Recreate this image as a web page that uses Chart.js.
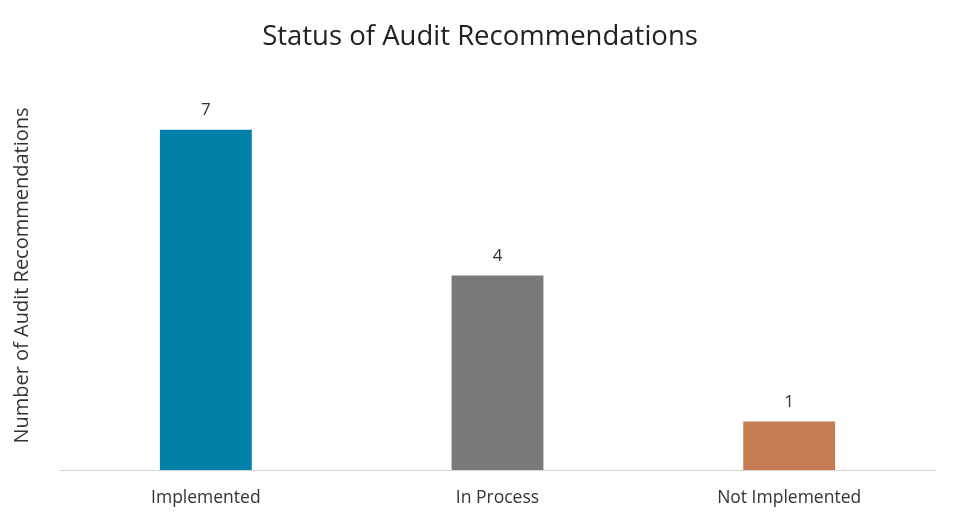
<!DOCTYPE html>
<html lang="en">
<head>
    <meta charset="UTF-8">
    <title>Status of Audit Recommendations</title>
    <style>
        html, body {
            margin: 0;
            padding: 0;
            background: #fff;
        }
        .chart-container {
            width: 960px;
            height: 524px;
        }
    </style>
</head>
<body>

<div class="chart-container">
    <canvas id="auditChart"></canvas>
</div>

<script src="https://cdn.jsdelivr.net/npm/chart.js"></script>
<script>
    const categories = ['Implemented', 'In Process', 'Not Implemented'];
    const counts = [7, 4, 1];
    const barColors = ['#0180A8', '#7A7B78', '#C77B53'];

    const fontFamily = "'Open Sans', 'Noto Sans', sans-serif";

    // values written above each bar
    const valueLabels = {
        id: 'valueLabels',
        afterDatasetsDraw(chart) {
            const ctx = chart.ctx;
            const meta = chart.getDatasetMeta(0);
            ctx.save();
            ctx.font = '17px ' + fontFamily;
            ctx.fillStyle = '#333';
            ctx.textAlign = 'center';
            ctx.textBaseline = 'bottom';
            meta.data.forEach((bar, i) => {
                ctx.fillText(counts[i], bar.x, bar.y - 11);
            });
            ctx.restore();
        }
    };

    const ctx = document.getElementById('auditChart').getContext('2d');
    new Chart(ctx, {
        type: 'bar',
        data: {
            labels: categories,
            datasets: [{
                data: counts,
                backgroundColor: barColors,
                barPercentage: 0.315,
                categoryPercentage: 1
            }]
        },
        options: {
            responsive: true,
            maintainAspectRatio: false,
            animation: false,
            layout: {
                padding: { top: 0, right: 0, bottom: -3, left: 0 }
            },
            scales: {
                x: {
                    grid: { display: false, drawTicks: false },
                    border: { display: true, color: '#d4d4d4', width: 1 },
                    ticks: {
                        padding: 18,
                        color: '#333',
                        font: { family: fontFamily, size: 17.5 }
                    }
                },
                y: {
                    min: 0,
                    max: 8,
                    grid: { display: false, drawTicks: false },
                    border: { display: false },
                    ticks: { display: false },
                    title: {
                        display: true,
                        text: 'Number of Audit Recommendations',
                        color: '#333',
                        font: { family: fontFamily, size: 20 },
                        padding: { top: 10, bottom: 0 }
                    },
                    afterFit(scale) {
                        scale.width = 60;
                    }
                },
                // empty right-hand axis, only keeps the right margin
                yRight: {
                    position: 'right',
                    min: 0,
                    max: 8,
                    grid: { display: false, drawTicks: false },
                    border: { display: false },
                    ticks: { display: false },
                    afterFit(scale) {
                        scale.width = 25;
                    }
                }
            },
            plugins: {
                legend: { display: false },
                tooltip: { enabled: false },
                title: {
                    display: true,
                    text: 'Status of Audit Recommendations',
                    color: '#222',
                    font: { family: fontFamily, size: 27.5, weight: 'normal' },
                    padding: { top: 21, bottom: 27 }
                }
            }
        },
        plugins: [valueLabels]
    });
</script>

</body>
</html>
